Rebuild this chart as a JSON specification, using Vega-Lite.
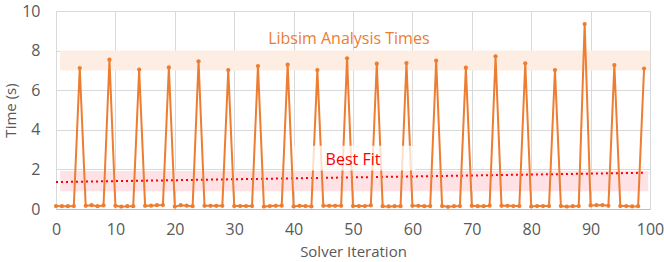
{
  "$schema": "https://vega.github.io/schema/vega-lite/v6.json",
  "width": 594,
  "height": 198,
  "autosize": {"type": "none"},
  "padding": {"left": 56, "top": 11, "right": 14, "bottom": 53},
  "background": "white",
  "config": {
    "font": "Open Sans",
    "view": {"stroke": null},
    "axis": {
      "gridColor": "#d9d9d9",
      "gridWidth": 1,
      "ticks": false,
      "labelColor": "#595959",
      "labelFontSize": 16,
      "titleColor": "#595959",
      "titleFontSize": 15,
      "titleFontWeight": "normal",
      "domain": false,
      "labelOverlap": false,
      "labelFlush": false
    },
    "axisX": {"labelPadding": 12, "titlePadding": 7, "domain": true, "domainColor": "#bfbfbf", "tickCount": 10},
    "axisY": {"labelPadding": 16, "titlePadding": 3, "tickCount": 5}
  },
  "datasets": {
    "times": [
      {"iter": 0, "t": 0.15}, {"iter": 1, "t": 0.14}, {"iter": 2, "t": 0.14}, {"iter": 3, "t": 0.15}, {"iter": 4, "t": 7.12},
      {"iter": 5, "t": 0.16}, {"iter": 6, "t": 0.19}, {"iter": 7, "t": 0.14}, {"iter": 8, "t": 0.18}, {"iter": 9, "t": 7.54},
      {"iter": 10, "t": 0.16}, {"iter": 11, "t": 0.12}, {"iter": 12, "t": 0.14}, {"iter": 13, "t": 0.14}, {"iter": 14, "t": 7.04},
      {"iter": 15, "t": 0.16}, {"iter": 16, "t": 0.17}, {"iter": 17, "t": 0.19}, {"iter": 18, "t": 0.2}, {"iter": 19, "t": 7.15},
      {"iter": 20, "t": 0.12}, {"iter": 21, "t": 0.19}, {"iter": 22, "t": 0.17}, {"iter": 23, "t": 0.14}, {"iter": 24, "t": 7.46},
      {"iter": 25, "t": 0.16}, {"iter": 26, "t": 0.16}, {"iter": 27, "t": 0.16}, {"iter": 28, "t": 0.16}, {"iter": 29, "t": 7.02},
      {"iter": 30, "t": 0.15}, {"iter": 31, "t": 0.15}, {"iter": 32, "t": 0.15}, {"iter": 33, "t": 0.15}, {"iter": 34, "t": 7.22},
      {"iter": 35, "t": 0.12}, {"iter": 36, "t": 0.15}, {"iter": 37, "t": 0.16}, {"iter": 38, "t": 0.17}, {"iter": 39, "t": 7.29},
      {"iter": 40, "t": 0.13}, {"iter": 41, "t": 0.16}, {"iter": 42, "t": 0.15}, {"iter": 43, "t": 0.13}, {"iter": 44, "t": 7.02},
      {"iter": 45, "t": 0.16}, {"iter": 46, "t": 0.16}, {"iter": 47, "t": 0.16}, {"iter": 48, "t": 0.16}, {"iter": 49, "t": 7.61},
      {"iter": 50, "t": 0.15}, {"iter": 51, "t": 0.15}, {"iter": 52, "t": 0.15}, {"iter": 53, "t": 0.18}, {"iter": 54, "t": 7.34},
      {"iter": 55, "t": 0.14}, {"iter": 56, "t": 0.13}, {"iter": 57, "t": 0.14}, {"iter": 58, "t": 0.14}, {"iter": 59, "t": 7.37},
      {"iter": 60, "t": 0.16}, {"iter": 61, "t": 0.16}, {"iter": 62, "t": 0.14}, {"iter": 63, "t": 0.15}, {"iter": 64, "t": 7.49},
      {"iter": 65, "t": 0.15}, {"iter": 66, "t": 0.11}, {"iter": 67, "t": 0.14}, {"iter": 68, "t": 0.15}, {"iter": 69, "t": 7.14},
      {"iter": 70, "t": 0.16}, {"iter": 71, "t": 0.14}, {"iter": 72, "t": 0.14}, {"iter": 73, "t": 0.17}, {"iter": 74, "t": 7.71},
      {"iter": 75, "t": 0.16}, {"iter": 76, "t": 0.16}, {"iter": 77, "t": 0.15}, {"iter": 78, "t": 0.15}, {"iter": 79, "t": 7.36},
      {"iter": 80, "t": 0.13}, {"iter": 81, "t": 0.15}, {"iter": 82, "t": 0.15}, {"iter": 83, "t": 0.15}, {"iter": 84, "t": 7.02},
      {"iter": 85, "t": 0.15}, {"iter": 86, "t": 0.12}, {"iter": 87, "t": 0.14}, {"iter": 88, "t": 0.15}, {"iter": 89, "t": 9.34},
      {"iter": 90, "t": 0.18}, {"iter": 91, "t": 0.19}, {"iter": 92, "t": 0.2}, {"iter": 93, "t": 0.16}, {"iter": 94, "t": 7.27},
      {"iter": 95, "t": 0.15}, {"iter": 96, "t": 0.15}, {"iter": 97, "t": 0.13}, {"iter": 98, "t": 0.14}, {"iter": 99, "t": 7.09}
    ],
    "bands": [
      {"x1": 0.7, "x2": 100, "y1": 7.0, "y2": 8.0, "kind": "analysis"},
      {"x1": 0.7, "x2": 99.7, "y1": 0.9, "y2": 1.92, "kind": "fit"}
    ],
    "fit": [
      {"iter": 0, "t": 1.36},
      {"iter": 99, "t": 1.83}
    ],
    "labelbox": [
      {"x1": 40, "x2": 60.5, "y1": 1.95, "y2": 3.2}
    ],
    "labels": [
      {"iter": 49.3, "t": 8.6, "text": "Libsim Analysis Times", "kind": "analysis"},
      {"iter": 50, "t": 2.45, "text": "Best Fit", "kind": "fit"}
    ]
  },
  "layer": [
    {
      "data": {"name": "bands"},
      "mark": {"type": "rect"},
      "encoding": {
        "x": {"field": "x1", "type": "quantitative", "scale": {"domain": [0, 100], "nice": false}, "title": "Solver Iteration"},
        "x2": {"field": "x2"},
        "y": {"field": "y1", "type": "quantitative", "scale": {"domain": [0, 10], "nice": false}, "title": "Time (s)"},
        "y2": {"field": "y2"},
        "color": {"field": "kind", "type": "nominal", "scale": {"domain": ["analysis", "fit"], "range": ["#fdede3", "#ffe2e5"]}, "legend": null}
      }
    },
    {
      "data": {"name": "fit"},
      "mark": {"type": "line", "color": "#ff0000", "strokeWidth": 2, "strokeDash": [2, 3]},
      "encoding": {
        "x": {"field": "iter", "type": "quantitative", "title": "Solver Iteration"},
        "y": {"field": "t", "type": "quantitative", "title": "Time (s)"}
      }
    },
    {
      "data": {"name": "times"},
      "mark": {"type": "line", "color": "#ed7d31", "strokeWidth": 2, "point": {"filled": true, "size": 18, "color": "#ed7d31"}},
      "encoding": {
        "x": {"field": "iter", "type": "quantitative", "title": "Solver Iteration"},
        "y": {"field": "t", "type": "quantitative", "title": "Time (s)"}
      }
    },
    {
      "data": {"name": "labelbox"},
      "mark": {"type": "rect", "color": "white", "opacity": 0.75},
      "encoding": {
        "x": {"field": "x1", "type": "quantitative", "title": "Solver Iteration"},
        "x2": {"field": "x2"},
        "y": {"field": "y1", "type": "quantitative", "title": "Time (s)"},
        "y2": {"field": "y2"}
      }
    },
    {
      "data": {"name": "labels"},
      "mark": {"type": "text", "fontSize": 16, "align": "center", "baseline": "middle", "font": "Open Sans"},
      "encoding": {
        "x": {"field": "iter", "type": "quantitative", "title": "Solver Iteration"},
        "y": {"field": "t", "type": "quantitative", "title": "Time (s)"},
        "text": {"field": "text"},
        "color": {"field": "kind", "type": "nominal", "scale": {"domain": ["analysis", "fit"], "range": ["#ed7d31", "#ff0000"]}, "legend": null}
      }
    }
  ],
  "resolve": {"scale": {"color": "independent"}}
}
